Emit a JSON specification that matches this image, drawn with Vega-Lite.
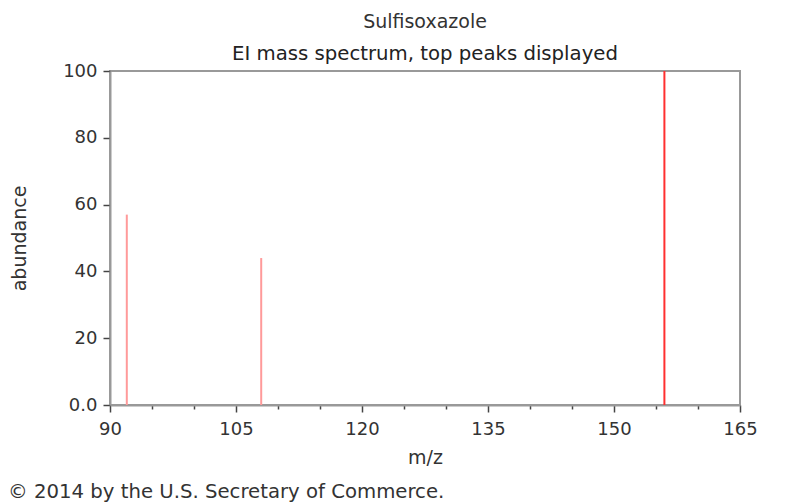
{
  "$schema": "https://vega.github.io/schema/vega-lite/v6.json",
  "width": 630,
  "height": 334,
  "autosize": {"type": "none"},
  "padding": {"left": 110, "top": 71, "right": 61, "bottom": 97},
  "background": "white",
  "title": {
    "text": "Sulfisoxazole",
    "subtitle": "EI mass spectrum, top peaks displayed",
    "anchor": "middle",
    "font": "DejaVu Sans",
    "fontSize": 19,
    "fontWeight": "normal",
    "color": "#333333",
    "subtitleFont": "DejaVu Sans",
    "subtitleFontSize": 19.7,
    "subtitleColor": "#222222",
    "subtitlePadding": 12,
    "offset": -2
  },
  "config": {
    "view": {"stroke": "#999999", "strokeWidth": 2},
    "font": "DejaVu Sans"
  },
  "layer": [
    {
      "data": {"values": [
        {"mz": 92, "abundance": 57},
        {"mz": 108, "abundance": 44},
        {"mz": 156, "abundance": 100}
      ]},
      "mark": {"type": "rule", "strokeWidth": 2},
      "encoding": {
        "x": {
          "field": "mz",
          "type": "quantitative",
          "scale": {"domain": [90, 165], "nice": false, "zero": false},
          "axis": {
            "values": [90, 95, 100, 105, 110, 115, 120, 125, 130, 135, 140, 145, 150, 155, 160, 165],
            "labelExpr": "datum.value % 15 == 0 ? datum.label : ''",
            "labelOverlap": false,
            "labelFlush": false,
            "labelFontSize": 18,
            "labelColor": "#333333",
            "labelPadding": 8,
            "tickSize": {"condition": {"test": "datum.value % 15 == 0", "value": 7}, "value": 4},
            "tickColor": "#444444",
            "tickWidth": 1.5,
            "domainColor": "#999999",
            "domainWidth": 2,
            "grid": false,
            "title": "m/z",
            "titleFontSize": 19,
            "titleFontWeight": "normal",
            "titleColor": "#333333",
            "titlePadding": 10
          }
        },
        "y": {
          "field": "abundance",
          "type": "quantitative",
          "scale": {"domain": [0, 100], "nice": false},
          "axis": {
            "values": [0, 5, 10, 15, 20, 25, 30, 35, 40, 45, 50, 55, 60, 65, 70, 75, 80, 85, 90, 95, 100],
            "labelExpr": "datum.value % 20 == 0 ? (datum.value == 0 ? '0.0' : datum.label) : ''",
            "labelOverlap": false,
            "labelFlush": false,
            "labelFontSize": 18,
            "labelColor": "#333333",
            "labelPadding": 6,
            "tickSize": {"condition": {"test": "datum.value % 20 == 0", "value": 7}, "value": 4},
            "tickColor": "#444444",
            "tickWidth": 1.5,
            "domainColor": "#999999",
            "domainWidth": 2,
            "grid": false,
            "title": "abundance",
            "titleFontSize": 19,
            "titleFontWeight": "normal",
            "titleColor": "#333333",
            "titlePadding": 33
          }
        },
        "y2": {"datum": 0},
        "color": {"condition": {"test": "datum.abundance >= 100", "value": "#ff3030"}, "value": "#ff9a9a"}
      }
    },
    {
      "data": {"values": [{"note": "© 2014 by the U.S. Secretary of Commerce."}]},
      "mark": {"type": "text", "align": "left", "baseline": "alphabetic", "dx": -102, "dy": 93, "fontSize": 19.7, "color": "#333333"},
      "encoding": {
        "x": {"datum": 90, "type": "quantitative"},
        "y": {"datum": 0, "type": "quantitative"},
        "text": {"field": "note"}
      }
    }
  ]
}
